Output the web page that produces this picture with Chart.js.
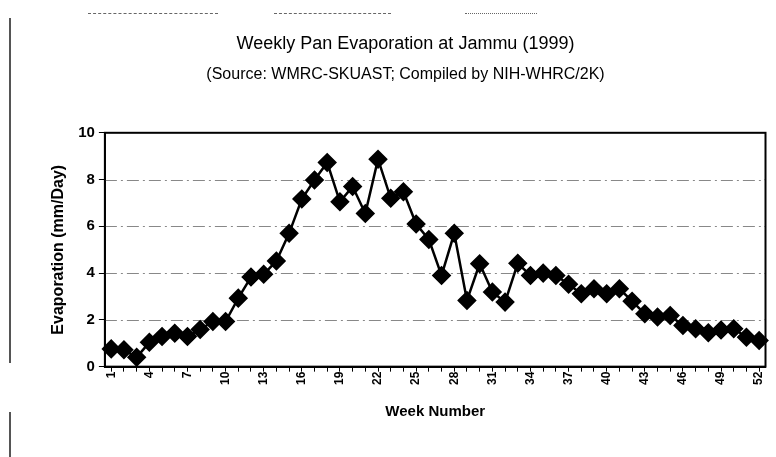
<!DOCTYPE html>
<html>
<head>
<meta charset="utf-8">
<script src="https://cdn.jsdelivr.net/npm/chart.js@4"></script>
<style>
  body { margin: 0; background: #fff; }
  #wrap { position: relative; width: 776px; height: 457px; }
  .vline { position: absolute; left: 9px; border-left: 2px solid #555; }
  .dash { position: absolute; top: 13px; border-top: 1px dashed #666; height: 0; }
</style>
</head>
<body>
<div id="wrap">
  <div class="vline" style="top:18px;height:345px"></div>
  <div class="vline" style="top:412px;height:45px"></div>
  <div class="dash" style="left:88px;width:130px"></div>
  <div class="dash" style="left:274px;width:117px"></div>
  <div class="dash" style="left:465px;width:72px;border-top-style:dotted"></div>
  <canvas id="evapChart" width="776" height="457"></canvas>
</div>
<script>
// Week numbers and weekly pan evaporation (mm/day)
const weeks = [];
for (let w = 1; w <= 52; w++) weeks.push(String(w));

const evaporation = [
  0.76, 0.72, 0.40, 1.04, 1.29, 1.43, 1.29, 1.59, 1.93, 1.93,
  2.93, 3.83, 3.95, 4.52, 5.70, 7.17, 7.98, 8.73, 7.05, 7.70,
  6.55, 8.87, 7.20, 7.48, 6.10, 5.44, 3.90, 5.70, 2.83, 4.40,
  3.19, 2.76, 4.42, 3.90, 4.00, 3.90, 3.52, 3.12, 3.33, 3.12,
  3.33, 2.80, 2.26, 2.12, 2.19, 1.76, 1.62, 1.45, 1.57, 1.62,
  1.26, 1.12
];

const yTicks = [0, 2, 4, 6, 8, 10];

// box around the plot area
const frameBox = {
  id: 'frameBox',
  afterDraw(chart) {
    const a = chart.chartArea;
    const ctx = chart.ctx;
    ctx.save();
    ctx.strokeStyle = '#000';
    ctx.lineWidth = 2;
    ctx.strokeRect(a.left, a.top, a.right - a.left, a.bottom - a.top);
    ctx.restore();
  }
};

document.addEventListener('DOMContentLoaded', function () {
  const ctx = document.getElementById('evapChart').getContext('2d');

  new Chart(ctx, {
    type: 'line',
    data: {
      labels: weeks,
      datasets: [{
        label: 'Evaporation',
        data: evaporation,
        borderColor: '#000',
        backgroundColor: '#000',
        borderWidth: 2.5,
        pointStyle: 'rectRot',
        pointRadius: 8,
        pointBackgroundColor: '#000',
        pointBorderColor: '#000',
        fill: false,
        tension: 0
      }]
    },
    options: {
      responsive: false,
      animation: false,
      layout: { padding: { left: 45, right: 10, top: 33, bottom: 32 } },
      plugins: {
        legend: { display: false },
        tooltip: { enabled: false },
        title: {
          display: true,
          text: 'Weekly Pan Evaporation at Jammu (1999)',
          color: '#000',
          font: { family: 'Liberation Sans', size: 18, weight: 'normal' },
          padding: { top: 0, bottom: 7 }
        },
        subtitle: {
          display: true,
          text: '(Source: WMRC-SKUAST; Compiled by NIH-WHRC/2K)',
          color: '#000',
          font: { family: 'Liberation Sans', size: 16, weight: 'normal' },
          padding: { top: 3, bottom: 49 }
        }
      },
      scales: {
        x: {
          offset: true,
          grid: { display: true, drawOnChartArea: false, drawTicks: true, tickLength: 5, color: '#000', lineWidth: 1 },
          border: { color: '#000', width: 2 },
          ticks: {
            autoSkip: false,
            minRotation: 90,
            maxRotation: 90,
            color: '#000',
            font: { family: 'Liberation Sans', size: 12, weight: 'bold' },
            padding: 0,
            callback: function (val, i) { return i % 3 === 0 ? weeks[i] : ''; }
          },
          title: {
            display: true,
            text: 'Week Number',
            color: '#000',
            font: { family: 'Liberation Sans', size: 15, weight: 'bold' },
            padding: { top: 18 }
          }
        },
        y: {
          min: yTicks[0],
          max: yTicks[yTicks.length - 1],
          afterBuildTicks: function (axis) { axis.ticks = yTicks.map(v => ({ value: v })); },
          grid: { color: '#888', lineWidth: 1, tickLength: 6, drawTicks: true, tickColor: '#000' },
          border: { color: '#000', width: 2, dash: [] },
          ticks: {
            color: '#000',
            font: { family: 'Liberation Sans', size: 15, weight: 'bold' },
            padding: 4
          },
          title: {
            display: true,
            text: 'Evaporation (mm/Day)',
            color: '#000',
            font: { family: 'Liberation Sans', size: 16, weight: 'bold' },
            padding: { bottom: 6 }
          }
        }
      }
    },
    plugins: [frameBox, {
      id: 'dashGrid',
      beforeDatasetsDraw(chart) {
        // redraw the horizontal grid as broken dash-dot lines
        const y = chart.scales.y, a = chart.chartArea, c = chart.ctx;
        c.save();
        c.fillStyle = '#fff';
        c.fillRect(a.left + 1, a.top + 1, a.right - a.left - 2, a.bottom - a.top - 2);
        c.strokeStyle = '#888';
        c.lineWidth = 1;
        c.setLineDash([12, 4, 2, 4]);
        yTicks.slice(1, -1).forEach(function (v) {
          const py = Math.round(y.getPixelForValue(v)) + 0.5;
          c.beginPath();
          c.moveTo(a.left, py);
          c.lineTo(a.right, py);
          c.stroke();
        });
        c.restore();
      }
    }]
  });
});
</script>
</body>
</html>
